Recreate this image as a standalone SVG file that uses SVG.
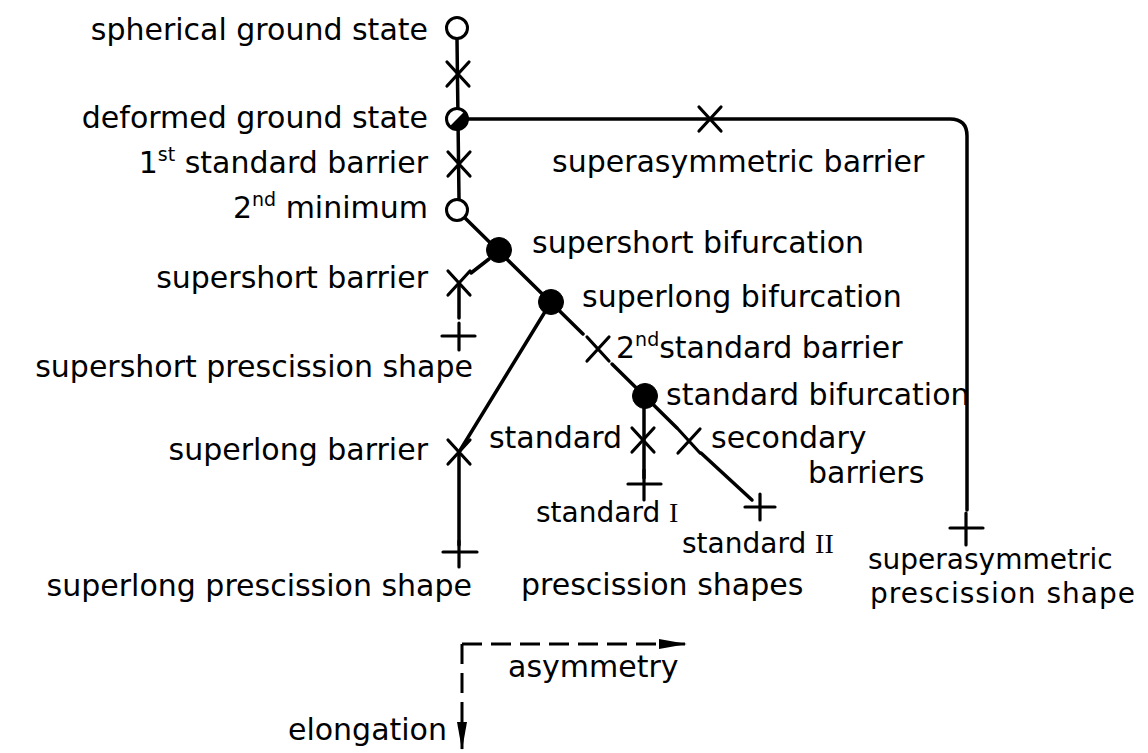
<svg xmlns="http://www.w3.org/2000/svg" width="1148" height="753" viewBox="0 0 1148 753">
<style>
text{font-family:"DejaVu Sans","Liberation Sans",sans-serif;font-size:30px;fill:#000}
.sup{font-size:19px}
.sm{font-size:28px}
.rn{font-family:"Liberation Serif","DejaVu Serif",serif}
.ln{fill:none;stroke:#000;stroke-width:3.5;stroke-linecap:round}
.mk{fill:none;stroke:#000;stroke-width:3.2;stroke-linecap:round}
.open{fill:#fff;stroke:#000;stroke-width:3}
.full{fill:#000;stroke:#000;stroke-width:1}
.dash{fill:none;stroke:#000;stroke-width:3;stroke-dasharray:20 9}
</style>
<defs>
<marker id="ah" markerUnits="userSpaceOnUse" viewBox="0 0 28 12" refX="27" refY="6" markerWidth="28" markerHeight="12" orient="auto">
<path d="M0,1 L28,6 L0,11 Z" fill="#000"/>
</marker>
<path id="xm" d="M-11,-12 L11,12 M11,-12 L-11,12" class="mk"/>
</defs>
<rect width="1148" height="753" fill="#fff"/>

<g id="connectors">
<path class="ln" d="M457,39 L459,199"/>
<path class="ln" d="M468,119 H950 Q967,119 967,136 V510"/>
<path class="ln" d="M465,218 L583,334"/>
<path class="ln" d="M612,364 L677,428"/>
<path class="ln" d="M701,453 L752,500"/>
<path class="ln" d="M489,259 L471,273"/>
<path class="ln" d="M459,283 V318"/>
<path class="ln" d="M551,302 L459,452 V545"/>
<path class="ln" d="M644,396 V478"/>
</g>

<g id="n-spherical"><circle class="open" cx="457" cy="28" r="10.5"/><text x="428" y="40" text-anchor="end">spherical ground state</text></g>
<g id="x-first-gap"><use href="#xm" x="458" y="74"/></g>
<g id="n-deformed"><circle class="open" cx="457" cy="119" r="10.5"/><path d="M449.6,126.4 A10.5,10.5 0 0 0 464.4,111.6 Z" fill="#000"/><text x="428" y="128" text-anchor="end">deformed ground state</text></g>
<g id="x-1st-standard"><use href="#xm" x="459" y="164"/><text x="428" y="173" text-anchor="end">1<tspan class="sup" dy="-12">st</tspan><tspan dy="12"> standard barrier</tspan></text></g>
<g id="n-2nd-minimum"><circle class="open" cx="457" cy="210" r="10.5"/><text x="428" y="218" text-anchor="end">2<tspan class="sup" dy="-12">nd</tspan><tspan dy="12"> minimum</tspan></text></g>
<g id="x-superasym"><use href="#xm" x="710" y="119"/><text x="552" y="172">superasymmetric barrier</text></g>
<g id="n-supershort-bif"><circle class="full" cx="499" cy="250" r="12.5"/><text x="532" y="253">supershort bifurcation</text></g>
<g id="x-supershort"><use href="#xm" x="459" y="283"/><text x="428" y="288" text-anchor="end">supershort barrier</text></g>
<g id="p-supershort"><path class="mk" d="M442,336 H475 M459,323 V350"/><text x="473" y="377" text-anchor="end">supershort prescission shape</text></g>
<g id="n-superlong-bif"><circle class="full" cx="551" cy="302" r="12.5"/><text x="582" y="307">superlong bifurcation</text></g>
<g id="x-2nd-standard"><use href="#xm" x="598" y="349"/><text x="616" y="358">2<tspan class="sup" dy="-12">nd</tspan><tspan dy="12">standard barrier</tspan></text></g>
<g id="n-standard-bif"><circle class="full" cx="645" cy="396" r="12.5"/><text x="666" y="405">standard bifurcation</text></g>
<g id="x-standard"><use href="#xm" x="643" y="440"/><text x="622" y="448" text-anchor="end">standard</text></g>
<g id="x-secondary"><use href="#xm" x="689" y="441"/><text x="711" y="448">secondary</text><text x="808" y="483">barriers</text></g>
<g id="x-superlong"><use href="#xm" x="459" y="452"/><text x="428" y="460" text-anchor="end">superlong barrier</text></g>
<g id="p-standard-1"><path class="mk" d="M628,484 H661 M644,470 V500"/><text class="sm" x="536" y="522">standard <tspan class="rn">I</tspan></text></g>
<g id="p-standard-2"><path class="mk" d="M745,507 H775 M760,494 V520"/><text class="sm" x="682" y="553">standard <tspan class="rn">II</tspan></text></g>
<g id="p-superlong"><path class="mk" d="M443,552 H477 M459,541 V567"/><text x="472" y="596" text-anchor="end">superlong prescission shape</text></g>
<g id="l-prescission"><text x="521" y="595">prescission shapes</text></g>
<g id="p-superasym"><path class="mk" d="M950,528 H983 M966,513 V545"/><text class="sm" x="868" y="569">superasymmetric</text><text class="sm" x="870" y="603" textLength="265">prescission shape</text></g>

<g id="axes">
<path class="dash" d="M462,644 H686" marker-end="url(#ah)"/>
<path class="dash" d="M462,644 V749" marker-end="url(#ah)"/>
<text x="508" y="677">asymmetry</text>
<text x="447" y="740" text-anchor="end">elongation</text>
</g>
</svg>
